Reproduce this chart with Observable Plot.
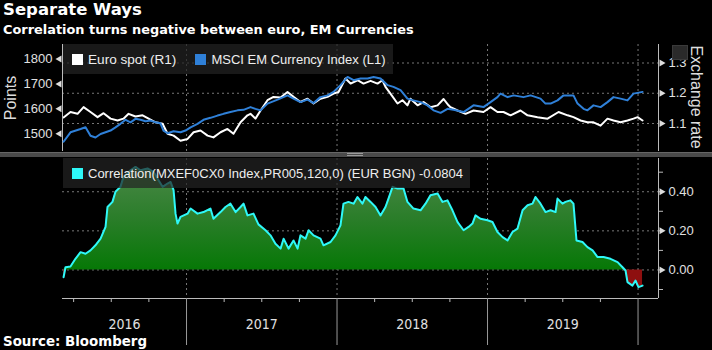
<!DOCTYPE html>
<html><head><meta charset="utf-8">
<script src="https://cdn.jsdelivr.net/npm/d3@7"></script>
<script src="https://cdn.jsdelivr.net/npm/@observablehq/plot@0.6"></script>
<style>
html,body{margin:0;padding:0;background:#000;}
#chart{position:relative;width:712px;height:350px;background:#000;overflow:hidden;font-family:"Liberation Sans",Arial,sans-serif;color:#e6e6e6;}
.abs{position:absolute;}
#title{left:3px;top:0px;font:bold 16.5px "DejaVu Sans",Verdana,sans-serif;color:#fff;white-space:nowrap;}
#subtitle{left:3px;top:22px;font:bold 12.9px "DejaVu Sans",Verdana,sans-serif;color:#fff;white-space:nowrap;}
#source{left:3px;top:334px;font:bold 13.4px "DejaVu Sans",Verdana,sans-serif;color:#fff;white-space:nowrap;}
.legend{background:rgba(34,34,34,0.72);display:flex;align-items:center;font-size:13px;color:#eee;white-space:nowrap;box-sizing:border-box;padding-left:9px;}
.sw{display:inline-block;width:11px;height:11px;margin-right:5px;}
.axt{font-size:16px;color:#ddd;white-space:nowrap;transform-origin:center center;}
.wrap svg{display:block;}
</style></head>
<body>
<div id="chart">
  <div id="title" class="abs">Separate Ways</div>
  <div id="subtitle" class="abs">Correlation turns negative between euro, EM Currencies</div>
  <div id="pTopA" class="abs wrap" style="left:0;top:40px"></div>
  <div id="pTopB" class="abs wrap" style="left:0;top:40px"></div>
  <div id="pBot" class="abs wrap" style="left:0;top:155px"></div>
  <div class="abs" style="left:0;top:152px;width:712px;height:5px;background:#4a4a4a;border-top:1px solid #666;box-sizing:border-box"></div>
  <div class="abs" style="left:347px;top:153px;width:16px;height:1px;background:#999"></div>
  <div class="abs" style="left:347px;top:155px;width:16px;height:1px;background:#999"></div>
  <div class="abs legend" style="left:63px;top:44px;width:330px;height:30px">
    <span class="sw" style="background:#fff"></span><span style="font-size:13.6px">Euro spot (R1)</span>
    <span class="sw" style="background:#2f80d8;margin-left:19px"></span><span>MSCI EM Currency Index (L1)</span>
  </div>
  <div class="abs legend" style="left:63px;top:158px;width:407px;height:30px">
    <span class="sw" style="background:#2ef8f8"></span><span>Correlation(MXEF0CX0 Index,PR005,120,0) (EUR BGN) -0.0804</span>
  </div>
  <div class="abs" style="left:672px;top:45px;width:16px;height:15px;background:#2a2a2a;border:1px solid #3a3a3a;box-sizing:border-box"></div>
  <div class="abs axt" style="left:11px;top:98px;transform:translate(-50%,-50%) rotate(-90deg)">Points</div>
  <div class="abs axt" style="left:696px;top:97px;transform:translate(-50%,-50%) rotate(90deg)">Exchange rate</div>
  <div id="source" class="abs">Source: Bloomberg</div>
</div>
<script>
// ---- data (decimal year, value) ----
const blueT = [2016.183,2016.229,2016.296,2016.329,2016.362,2016.395,2016.429,2016.462,2016.495,2016.528,2016.561,2016.595,2016.628,2016.661,2016.694,2016.728,2016.761,2016.794,2016.827,2016.847,2016.874,2016.914,2016.960,2016.993,2017.027,2017.073,2017.113,2017.159,2017.206,2017.246,2017.292,2017.339,2017.379,2017.425,2017.458,2017.492,2017.538,2017.605,2017.671,2017.711,2017.757,2017.804,2017.844,2017.890,2017.937,2017.977,2018.023,2018.070,2018.110,2018.156,2018.203,2018.243,2018.289,2018.336,2018.375,2018.422,2018.468,2018.508,2018.555,2018.601,2018.641,2018.688,2018.734,2018.774,2018.841,2018.907,2018.973,2019.020,2019.066,2019.086,2019.133,2019.173,2019.239,2019.286,2019.352,2019.385,2019.419,2019.465,2019.505,2019.571,2019.598,2019.638,2019.664,2019.704,2019.751,2019.797,2019.837,2019.884,2019.930,2019.970,2020.030];
const blueV = [1468,1506,1519,1526,1492,1485,1499,1506,1513,1526,1540,1556,1546,1560,1556,1550,1553,1546,1542,1513,1502,1510,1506,1513,1526,1540,1556,1564,1573,1580,1587,1594,1596,1607,1600,1594,1621,1637,1654,1641,1627,1637,1623,1647,1654,1668,1695,1728,1715,1722,1722,1728,1722,1695,1688,1675,1641,1634,1627,1614,1594,1584,1600,1596,1587,1614,1607,1627,1647,1661,1647,1654,1647,1654,1641,1621,1621,1634,1654,1654,1621,1600,1594,1614,1607,1627,1647,1641,1634,1661,1668];

const euroT = [2016.183,2016.229,2016.276,2016.316,2016.362,2016.409,2016.449,2016.495,2016.542,2016.581,2016.615,2016.661,2016.708,2016.748,2016.794,2016.841,2016.874,2016.914,2016.960,2017.007,2017.047,2017.093,2017.140,2017.179,2017.226,2017.272,2017.312,2017.359,2017.405,2017.425,2017.458,2017.492,2017.538,2017.578,2017.625,2017.671,2017.711,2017.757,2017.804,2017.844,2017.890,2017.937,2017.977,2018.010,2018.056,2018.090,2018.136,2018.176,2018.223,2018.269,2018.302,2018.322,2018.355,2018.402,2018.435,2018.468,2018.488,2018.535,2018.575,2018.621,2018.668,2018.708,2018.741,2018.754,2018.801,2018.854,2018.907,2018.973,2019.020,2019.066,2019.106,2019.153,2019.219,2019.266,2019.332,2019.399,2019.472,2019.532,2019.571,2019.618,2019.664,2019.704,2019.751,2019.797,2019.837,2019.884,2019.930,2019.970,2019.997,2020.030];
const euroV = [1.120,1.138,1.132,1.154,1.138,1.121,1.134,1.116,1.110,1.116,1.132,1.123,1.127,1.116,1.104,1.099,1.066,1.060,1.043,1.049,1.071,1.077,1.060,1.054,1.071,1.082,1.066,1.104,1.127,1.132,1.116,1.143,1.177,1.188,1.186,1.204,1.188,1.171,1.182,1.166,1.182,1.188,1.199,1.204,1.249,1.232,1.243,1.232,1.241,1.232,1.243,1.221,1.199,1.166,1.177,1.160,1.182,1.160,1.171,1.154,1.160,1.181,1.160,1.154,1.143,1.132,1.143,1.138,1.154,1.138,1.138,1.127,1.143,1.127,1.121,1.116,1.138,1.127,1.121,1.110,1.104,1.104,1.093,1.116,1.110,1.104,1.110,1.116,1.121,1.110];

const corrT = [2016.183,2016.196,2016.229,2016.262,2016.296,2016.329,2016.362,2016.395,2016.429,2016.462,2016.475,2016.508,2016.528,2016.561,2016.581,2016.628,2016.661,2016.694,2016.741,2016.781,2016.814,2016.841,2016.874,2016.894,2016.914,2016.927,2016.940,2016.960,2017.007,2017.027,2017.073,2017.113,2017.159,2017.179,2017.226,2017.259,2017.292,2017.326,2017.359,2017.379,2017.405,2017.445,2017.478,2017.525,2017.558,2017.591,2017.625,2017.645,2017.678,2017.711,2017.738,2017.757,2017.791,2017.811,2017.844,2017.890,2017.910,2017.957,2017.990,2018.023,2018.043,2018.076,2018.110,2018.136,2018.169,2018.189,2018.223,2018.256,2018.289,2018.322,2018.342,2018.369,2018.402,2018.442,2018.468,2018.508,2018.555,2018.588,2018.621,2018.668,2018.701,2018.734,2018.767,2018.801,2018.841,2018.874,2018.900,2018.920,2018.953,2019.000,2019.033,2019.066,2019.100,2019.133,2019.166,2019.199,2019.233,2019.266,2019.299,2019.319,2019.352,2019.385,2019.419,2019.452,2019.465,2019.498,2019.518,2019.551,2019.571,2019.591,2019.631,2019.664,2019.698,2019.731,2019.771,2019.817,2019.864,2019.897,2019.917,2019.930,2019.963,2019.983,2020.003,2020.030];
const corrV = [-0.037,0.014,0.018,0.057,0.091,0.083,0.100,0.126,0.160,0.220,0.322,0.348,0.400,0.425,0.476,0.510,0.527,0.510,0.519,0.502,0.459,0.425,0.442,0.450,0.408,0.288,0.237,0.271,0.288,0.314,0.288,0.296,0.314,0.262,0.296,0.322,0.339,0.296,0.322,0.339,0.279,0.288,0.233,0.203,0.177,0.134,0.109,0.160,0.109,0.151,0.109,0.177,0.160,0.203,0.177,0.160,0.126,0.143,0.177,0.228,0.339,0.348,0.339,0.373,0.339,0.373,0.348,0.322,0.279,0.322,0.365,0.425,0.416,0.416,0.348,0.314,0.305,0.339,0.382,0.391,0.348,0.356,0.305,0.245,0.203,0.220,0.237,0.279,0.262,0.254,0.245,0.194,0.168,0.151,0.194,0.211,0.305,0.331,0.339,0.373,0.339,0.296,0.305,0.296,0.365,0.339,0.348,0.356,0.339,0.151,0.143,0.117,0.100,0.066,0.066,0.057,0.040,0.014,-0.003,-0.062,-0.080,-0.054,-0.088,-0.080];

const pointTicks = [1500,1600,1700,1800];
const fxTicks = [1.1,1.2,1.3];
const corrTicks = [-0.1,0,0.1,0.2,0.3,0.4,0.5];
const corrLabelTicks = [0,0.2,0.4];
const yearBounds = [2017,2018,2019,2020];
const quarterTicks = [2016.25,2016.5,2016.75,2017.25,2017.5,2017.75,2018.25,2018.5,2018.75,2019.25,2019.5,2019.75];
const yearLabelPos = [2016.588,2017.5,2018.5,2019.5];

const X_DOMAIN = [2016.176, 2020.136];
const PTS_DOMAIN = [1429, 1858];
const FX_DOMAIN = [1.0074, 1.3612];
const CORR_DOMAIN = [-0.146, 0.57];

const blue = blueT.map((t,i)=>({t, v: blueV[i]}));
const euro = euroT.map((t,i)=>({t, v: euroV[i]}));
const corr = corrT.map((t,i)=>({t, v: corrV[i]}));

const FONT = "'Liberation Sans', Arial, sans-serif";
const gridStyle = {stroke:"#777", strokeOpacity:1, strokeDasharray:"2,3", strokeWidth:1};

// ---- top panel, right axis (Euro spot) + grid ----
const topA = Plot.plot({
  width:712, height:112, marginLeft:62, marginRight:54, marginTop:4, marginBottom:1,
  style:{background:"transparent", color:"#ddd", fontFamily:FONT, fontSize:"13px"},
  x:{domain:X_DOMAIN, label:null, axis:null},
  y:{domain:FX_DOMAIN, label:null, axis:null},
  marks:[
    Plot.gridY({ticks:fxTicks, ...gridStyle}),
    Plot.gridX({ticks:yearBounds, ...gridStyle}),
    Plot.ruleX([X_DOMAIN[1]], {stroke:"#bbb"}),
    Plot.axisY({anchor:"right", ticks:fxTicks, tickSize:0, tickPadding:10, tickFormat:d=>d.toFixed(1), fill:"#e0e0e0"}),
    Plot.dot(fxTicks, {y:d=>d, frameAnchor:"right", symbol:"triangle", rotate:90, r:2.6, fill:"#ddd", stroke:null, dx:3}),
    Plot.line(euro, {x:"t", y:"v", stroke:"#ffffff", strokeWidth:2})
  ]
});
document.getElementById("pTopA").appendChild(topA);

// ---- top panel, left axis (MSCI EM Currency Index) ----
const topB = Plot.plot({
  width:712, height:112, marginLeft:62, marginRight:54, marginTop:4, marginBottom:1,
  style:{background:"transparent", color:"#ddd", fontFamily:FONT, fontSize:"13px"},
  x:{domain:X_DOMAIN, label:null, axis:null},
  y:{domain:PTS_DOMAIN, label:null, axis:null},
  marks:[
    Plot.ruleX([X_DOMAIN[0]], {stroke:"#bbb"}),
    Plot.axisY({anchor:"left", ticks:pointTicks, tickSize:0, tickPadding:10, tickFormat:d=>String(d), fill:"#e0e0e0"}),
    Plot.dot(pointTicks, {y:d=>d, frameAnchor:"left", symbol:"triangle", rotate:-90, r:2.6, fill:"#ddd", stroke:null, dx:-3}),
    Plot.line(blue, {x:"t", y:"v", stroke:"#2f80d8", strokeWidth:2})
  ]
});
document.getElementById("pTopB").appendChild(topB);

// ---- bottom panel: correlation ----
const bot = Plot.plot({
  width:712, height:195, marginLeft:62, marginRight:54, marginTop:3, marginBottom:52,
  style:{background:"transparent", color:"#ddd", fontFamily:FONT, fontSize:"13px"},
  x:{domain:X_DOMAIN, label:null, axis:null},
  y:{domain:CORR_DOMAIN, label:null, axis:null},
  marks:[
    Plot.gridY({ticks:corrLabelTicks, ...gridStyle}),
    Plot.gridX({ticks:yearBounds, ...gridStyle}),
    Plot.areaY(corr, {x:"t", y1:0, y2:d=>Math.max(d.v,0), fill:"url(#corrGrad)"}),
    Plot.areaY(corr, {x:"t", y1:0, y2:d=>Math.min(d.v,0), fill:"#8e0f0f"}),
    Plot.line(corr, {x:"t", y:"v", stroke:"#2ef8f8", strokeWidth:2}),
    Plot.ruleX([X_DOMAIN[1]], {stroke:"#bbb"}),
    Plot.ruleY([CORR_DOMAIN[0]], {stroke:"#bbb"}),
    Plot.axisY({anchor:"right", ticks:corrTicks, tickSize:4, tickFormat:()=>"", stroke:"#bbb"}),
    Plot.axisY({anchor:"right", ticks:corrLabelTicks, tickSize:0, tickPadding:10, tickFormat:d=>d.toFixed(2), fill:"#e0e0e0"}),
    Plot.dot(corrLabelTicks, {y:d=>d, frameAnchor:"right", symbol:"triangle", rotate:90, r:2.6, fill:"#ddd", stroke:null, dx:3}),
    Plot.axisX({anchor:"bottom", ticks:quarterTicks, tickSize:4, tickFormat:()=>"", stroke:"#bbb"}),
    Plot.axisX({anchor:"bottom", ticks:yearBounds, tickSize:47, tickFormat:()=>"", stroke:"#999"}),
    Plot.axisX({anchor:"bottom", ticks:yearLabelPos, tickSize:0, tickPadding:21, tickFormat:d=>String(Math.floor(d)), fill:"#e0e0e0", fontSize:14, fontFamily:"'Liberation Sans Narrow', 'DejaVu Sans Condensed', Arial, sans-serif"})
  ]
});
document.getElementById("pBot").appendChild(bot);

// gradient for the positive area
const ys = bot.scale("y");
const yTop = ys.apply(CORR_DOMAIN[1]);
const yZero = ys.apply(0);
const defs = d3.select(bot).insert("defs", ":first-child");
const grad = defs.append("linearGradient").attr("id","corrGrad").attr("gradientUnits","userSpaceOnUse")
  .attr("x1",0).attr("x2",0).attr("y1",yTop).attr("y2",yZero);
grad.append("stop").attr("offset","0%").attr("stop-color","#4f8a4d");
grad.append("stop").attr("offset","55%").attr("stop-color","#2a7d29");
grad.append("stop").attr("offset","100%").attr("stop-color","#067806");
</script>
</body></html>
